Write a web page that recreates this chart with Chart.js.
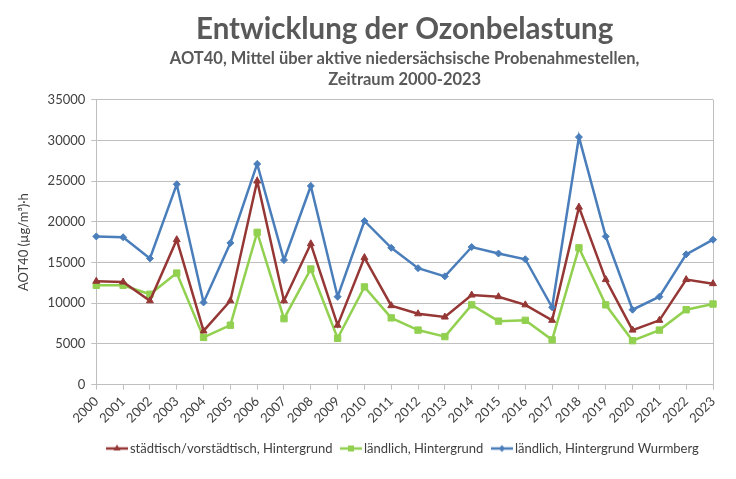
<!DOCTYPE html>
<html>
<head>
<meta charset="utf-8">
<script src="https://cdn.jsdelivr.net/npm/chart.js@4"></script>
<style>
  html, body { margin: 0; padding: 0; background: #fff; }
  #wrap { width: 736px; height: 479px; }
</style>
</head>
<body>
<div id="wrap"><canvas id="grafico" width="736" height="479"></canvas></div>
<script>
const jahre = ["2000","2001","2002","2003","2004","2005","2006","2007","2008","2009","2010","2011",
  "2012","2013","2014","2015","2016","2017","2018","2019","2020","2021","2022","2023"];
const staedtisch = [12700,12600,10300,17800,6600,10300,25000,10300,17300,7300,15600,9700,
  8700,8300,11000,10800,9800,7900,21800,12900,6700,7900,12900,12400];
const laendlich = [12200,12200,11100,13700,5800,7300,18700,8100,14200,5700,12000,8200,
  6700,5900,9800,7800,7900,5500,16800,9800,5400,6700,9200,9900];
const wurmberg = [18200,18100,15500,24600,10100,17400,27100,15300,24400,10800,20100,16800,
  14300,13300,16900,16100,15400,9500,30400,18200,9200,10800,16000,17800];
const yTicks = [0, 5000, 10000, 15000, 20000, 25000, 30000, 35000];

const rot = "#953735";
const gruen = "#92D050";
const blau = "#4A7EBB";
const textFarbe = "#404040";
const font = "Lato, 'Open Sans', sans-serif";

// kleines Legendensymbol: Linie mit Marker in der Mitte
function legendIcon(color, style) {
  const c = document.createElement("canvas");
  c.width = 22; c.height = 10;
  const g = c.getContext("2d");
  g.strokeStyle = color; g.fillStyle = color; g.lineWidth = 2.5;
  g.beginPath(); g.moveTo(0, 5); g.lineTo(22, 5); g.stroke();
  g.beginPath();
  if (style === "triangle") { g.moveTo(11, 1); g.lineTo(14.5, 7); g.lineTo(7.5, 7); }
  else if (style === "rect") { g.rect(8, 2, 6, 6); }
  else { g.moveTo(11, 1.5); g.lineTo(14, 5); g.lineTo(11, 8.5); g.lineTo(8, 5); }
  g.closePath(); g.fill();
  return c;
}

const rahmen = {
  id: "rahmen",
  beforeDatasetsDraw(chart) {
    const a = chart.chartArea, ctx = chart.ctx;
    ctx.save();
    ctx.strokeStyle = "#BFBFBF"; ctx.lineWidth = 1;
    ctx.beginPath();
    ctx.moveTo(Math.round(a.right) + 0.5, a.top);
    ctx.lineTo(Math.round(a.right) + 0.5, a.bottom);
    ctx.stroke();
    ctx.restore();
  }
};

function serie(label, data, color, style, radius) {
  return {
    label, data,
    borderColor: color, backgroundColor: color,
    pointBackgroundColor: color, pointBorderColor: color,
    borderWidth: 2.5, pointStyle: style, pointRadius: radius,
    pointBorderWidth: 1, tension: 0, fill: false,
    legendIcon: legendIcon(color, style)
  };
}

const ctx = document.getElementById("grafico").getContext("2d");
new Chart(ctx, {
  type: "line",
  data: {
    labels: jahre,
    datasets: [
      serie("ländlich, Hintergrund Wurmberg", wurmberg, blau, "rectRot", 3.5),
      serie("städtisch/vorstädtisch, Hintergrund", staedtisch, rot, "triangle", 4),
      serie("ländlich, Hintergrund", laendlich, gruen, "rect", 4.5)
    ]
  },
  options: {
    responsive: false,
    animation: false,
    layout: { padding: { left: 12, right: 23, top: 8, bottom: 14 } },
    plugins: {
      title: {
        display: true, fullSize: false,
        text: "Entwicklung der Ozonbelastung",
        color: "#595959",
        font: { family: font, size: 29.5, weight: "bold" },
        padding: { top: 4, bottom: 1 }
      },
      subtitle: {
        display: true, fullSize: false,
        text: ["AOT40, Mittel über aktive niedersächsische Probenahmestellen,", "Zeitraum 2000-2023"],
        color: "#595959",
        font: { family: font, size: 16.5, weight: "bold", lineHeight: 1.28 },
        padding: { top: 0, bottom: 9 }
      },
      legend: {
        position: "bottom", fullSize: false,
        labels: {
          usePointStyle: true,
          color: textFarbe,
          font: { family: font, size: 13 },
          padding: 12,
          generateLabels(chart) {
            const order = [1, 2, 0];
            return order.map(i => {
              const ds = chart.data.datasets[i];
              return {
                text: ds.label, datasetIndex: i,
                pointStyle: ds.legendIcon,
                fillStyle: ds.borderColor, strokeStyle: ds.borderColor,
                fontColor: textFarbe, lineWidth: 0, hidden: false
              };
            });
          }
        }
      },
      tooltip: { enabled: false }
    },
    scales: {
      x: {
        offset: false,
        grid: { drawOnChartArea: false, color: "#BFBFBF", tickLength: 5 },
        border: { color: "#BFBFBF" },
        ticks: {
          color: textFarbe, font: { family: font, size: 13 },
          maxRotation: 45, minRotation: 45, autoSkip: false, padding: 4
        }
      },
      y: {
        min: 0, max: 35000,
        afterBuildTicks(axis) { axis.ticks = yTicks.map(v => ({ value: v })); },
        grid: { color: "#BFBFBF", tickLength: 5 },
        border: { color: "#BFBFBF" },
        ticks: {
          color: textFarbe, font: { family: font, size: 13 }, padding: 6,
          callback: v => String(v)
        },
        title: {
          display: true, text: "AOT40 (µg/m³)·h",
          color: textFarbe, font: { family: font, size: 13 }, padding: { bottom: 10 }
        }
      }
    }
  },
  plugins: [rahmen]
});
</script>
</body>
</html>
